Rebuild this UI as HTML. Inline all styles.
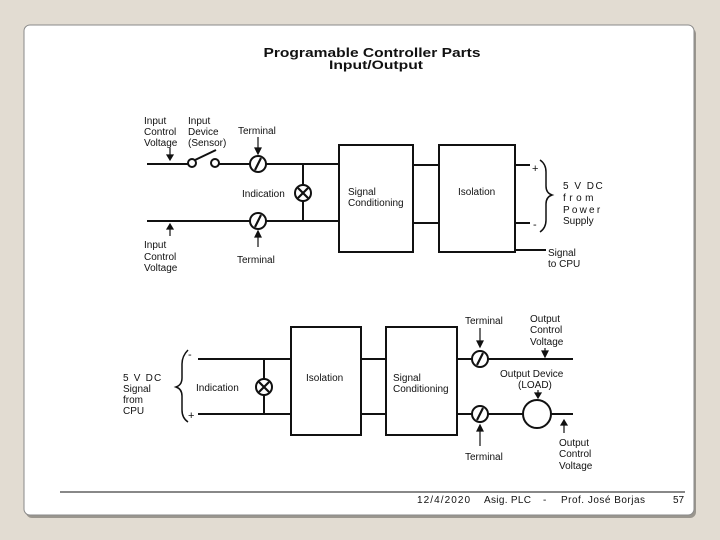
<!DOCTYPE html>
<html><head><meta charset="utf-8"><style>
html,body{margin:0;padding:0;background:#e2dcd2;}
svg{display:block;}
text{font-family:"Liberation Sans",Arial,sans-serif;fill:#111;}
</style></head><body>
<svg width="720" height="540" viewBox="0 0 720 540" xmlns="http://www.w3.org/2000/svg">
<rect x="0" y="0" width="720" height="540" fill="#e2dcd2"/>
<rect x="26" y="28" width="670" height="490" rx="6" fill="#9a968e"/>
<rect x="24" y="25" width="670" height="490" rx="6" fill="#fff" stroke="#8a8a8a" stroke-width="1"/>
<g font-weight="bold">
<text x="372" y="57" font-size="13" text-anchor="middle" textLength="217" lengthAdjust="spacingAndGlyphs">Programable  Controller  Parts</text>
<text x="376" y="69" font-size="12" text-anchor="middle" textLength="94" lengthAdjust="spacingAndGlyphs">Input/Output</text>
</g>
<g stroke="#111" stroke-width="2" fill="none">
<line x1="147" y1="164" x2="188" y2="164"/>
<circle cx="192" cy="163" r="4"/>
<circle cx="215" cy="163" r="4"/>
<line x1="195" y1="160" x2="216" y2="150"/>
<line x1="219" y1="164" x2="250" y2="164"/>
<circle cx="258" cy="164" r="8"/>
<line x1="266" y1="164" x2="339" y2="164"/>
<line x1="147" y1="221" x2="250" y2="221"/>
<circle cx="258" cy="221" r="8"/>
<line x1="266" y1="221" x2="339" y2="221"/>
<line x1="303" y1="164" x2="303" y2="185"/>
<line x1="303" y1="201" x2="303" y2="221"/>
<circle cx="303" cy="193" r="8"/>
<rect x="339" y="145" width="74" height="107"/>
<rect x="439" y="145" width="76" height="107"/>
<line x1="413" y1="165" x2="439" y2="165"/>
<line x1="413" y1="223" x2="439" y2="223"/>
<line x1="515" y1="165" x2="530" y2="165"/>
<line x1="515" y1="223" x2="530" y2="223"/>
<line x1="515" y1="250" x2="546" y2="250"/>
<line x1="198" y1="359" x2="291" y2="359"/>
<line x1="198" y1="414" x2="291" y2="414"/>
<line x1="264" y1="359" x2="264" y2="379"/>
<line x1="264" y1="395" x2="264" y2="414"/>
<circle cx="264" cy="387" r="8"/>
<rect x="291" y="327" width="70" height="108"/>
<rect x="386" y="327" width="71" height="108"/>
<line x1="361" y1="359" x2="386" y2="359"/>
<line x1="361" y1="414" x2="386" y2="414"/>
<line x1="457" y1="359" x2="472" y2="359"/>
<circle cx="480" cy="359" r="8"/>
<line x1="488" y1="359" x2="573" y2="359"/>
<line x1="457" y1="414" x2="472" y2="414"/>
<circle cx="480" cy="414" r="8"/>
<line x1="488" y1="414" x2="523" y2="414"/>
<circle cx="537" cy="414" r="14"/>
<line x1="551" y1="414" x2="573" y2="414"/>
</g>
<g stroke="#111" stroke-width="2.2" fill="none">
<line x1="255" y1="170" x2="261" y2="158"/>
<line x1="255" y1="227" x2="261" y2="215"/>
<line x1="477" y1="365" x2="483" y2="353"/>
<line x1="477" y1="420" x2="483" y2="408"/>
<line x1="298" y1="188" x2="308" y2="198"/><line x1="308" y1="188" x2="298" y2="198"/>
<line x1="259" y1="382" x2="269" y2="392"/><line x1="269" y1="382" x2="259" y2="392"/>
</g>
<g stroke="#111" stroke-width="1.5" fill="none">
<path d="M540 160 Q546 164 546 172 L546 186 Q546 193 552 195 Q546 197 546 204 L546 220 Q546 228 540 232"/>
<path d="M188 350 Q182 356 182 364 L182 378 Q182 385 176 387 Q182 389 182 396 L182 410 Q182 418 188 422"/>
</g>
<g stroke="#111" stroke-width="1.2" fill="#111">
<line x1="170" y1="148" x2="170" y2="157"/><path d="M167 155 L170 160 L173 155Z"/>
<line x1="258" y1="137" x2="258" y2="150"/><path d="M255 148 L258 154 L261 148Z"/>
<line x1="170" y1="236" x2="170" y2="227"/><path d="M167 229 L170 224 L173 229Z"/>
<line x1="258" y1="247" x2="258" y2="235"/><path d="M255 237 L258 231 L261 237Z"/>
<line x1="480" y1="328" x2="480" y2="343"/><path d="M477 341 L480 347 L483 341Z"/>
<line x1="545" y1="348" x2="545" y2="353"/><path d="M542 351 L545 357 L548 351Z"/>
<line x1="538" y1="390" x2="538" y2="394"/><path d="M535 393 L538 398 L541 393Z"/>
<line x1="480" y1="446" x2="480" y2="430"/><path d="M477 431 L480 425 L483 431Z"/>
<line x1="564" y1="433" x2="564" y2="424"/><path d="M561 425 L564 420 L567 425Z"/>
</g>
<g font-size="10">
<text x="144" y="124">Input</text><text x="144" y="135">Control</text><text x="144" y="146">Voltage</text>
<text x="188" y="124">Input</text><text x="188" y="135">Device</text><text x="188" y="146">(Sensor)</text>
<text x="238" y="134">Terminal</text>
<text x="242" y="197">Indication</text>
<text x="144" y="248">Input</text><text x="144" y="260">Control</text><text x="144" y="271">Voltage</text>
<text x="237" y="263">Terminal</text>
<text x="348" y="195">Signal</text><text x="348" y="206">Conditioning</text>
<text x="458" y="195">Isolation</text>
<text x="532" y="172" font-size="11">+</text>
<text x="533" y="228" font-size="11">-</text>
<text x="563" y="189" letter-spacing="1.5">5 V DC</text>
<text x="563" y="201" letter-spacing="3.5">from</text>
<text x="563" y="213" letter-spacing="2.2">Power</text>
<text x="563" y="224">Supply</text>
<text x="548" y="256">Signal</text><text x="548" y="267">to CPU</text>
<text x="123" y="381" letter-spacing="1.2">5 V DC</text><text x="123" y="392">Signal</text><text x="123" y="403">from</text><text x="123" y="414">CPU</text>
<text x="188" y="358" font-size="11">-</text>
<text x="188" y="419" font-size="11">+</text>
<text x="196" y="391">Indication</text>
<text x="306" y="381">Isolation</text>
<text x="393" y="381">Signal</text><text x="393" y="392">Conditioning</text>
<text x="465" y="324">Terminal</text>
<text x="530" y="322">Output</text><text x="530" y="333">Control</text><text x="530" y="345">Voltage</text>
<text x="500" y="377">Output  Device</text><text x="518" y="388">(LOAD)</text>
<text x="465" y="460">Terminal</text>
<text x="559" y="446">Output</text><text x="559" y="457">Control</text><text x="559" y="469">Voltage</text>
</g>
<line x1="60" y1="492" x2="685" y2="492" stroke="#111" stroke-width="1"/>
<g font-size="10">
<text x="417" y="503" fill="#999" textLength="53">12/4/2020</text>
<text x="484" y="503" fill="#999" textLength="47">Asig. PLC</text>
<text x="543" y="503" fill="#999">-</text>
<text x="561" y="503" fill="#999" textLength="84">Prof. José Borjas</text>
<text x="673" y="503" fill="#999">57</text>
</g>
</svg>
</body></html>
